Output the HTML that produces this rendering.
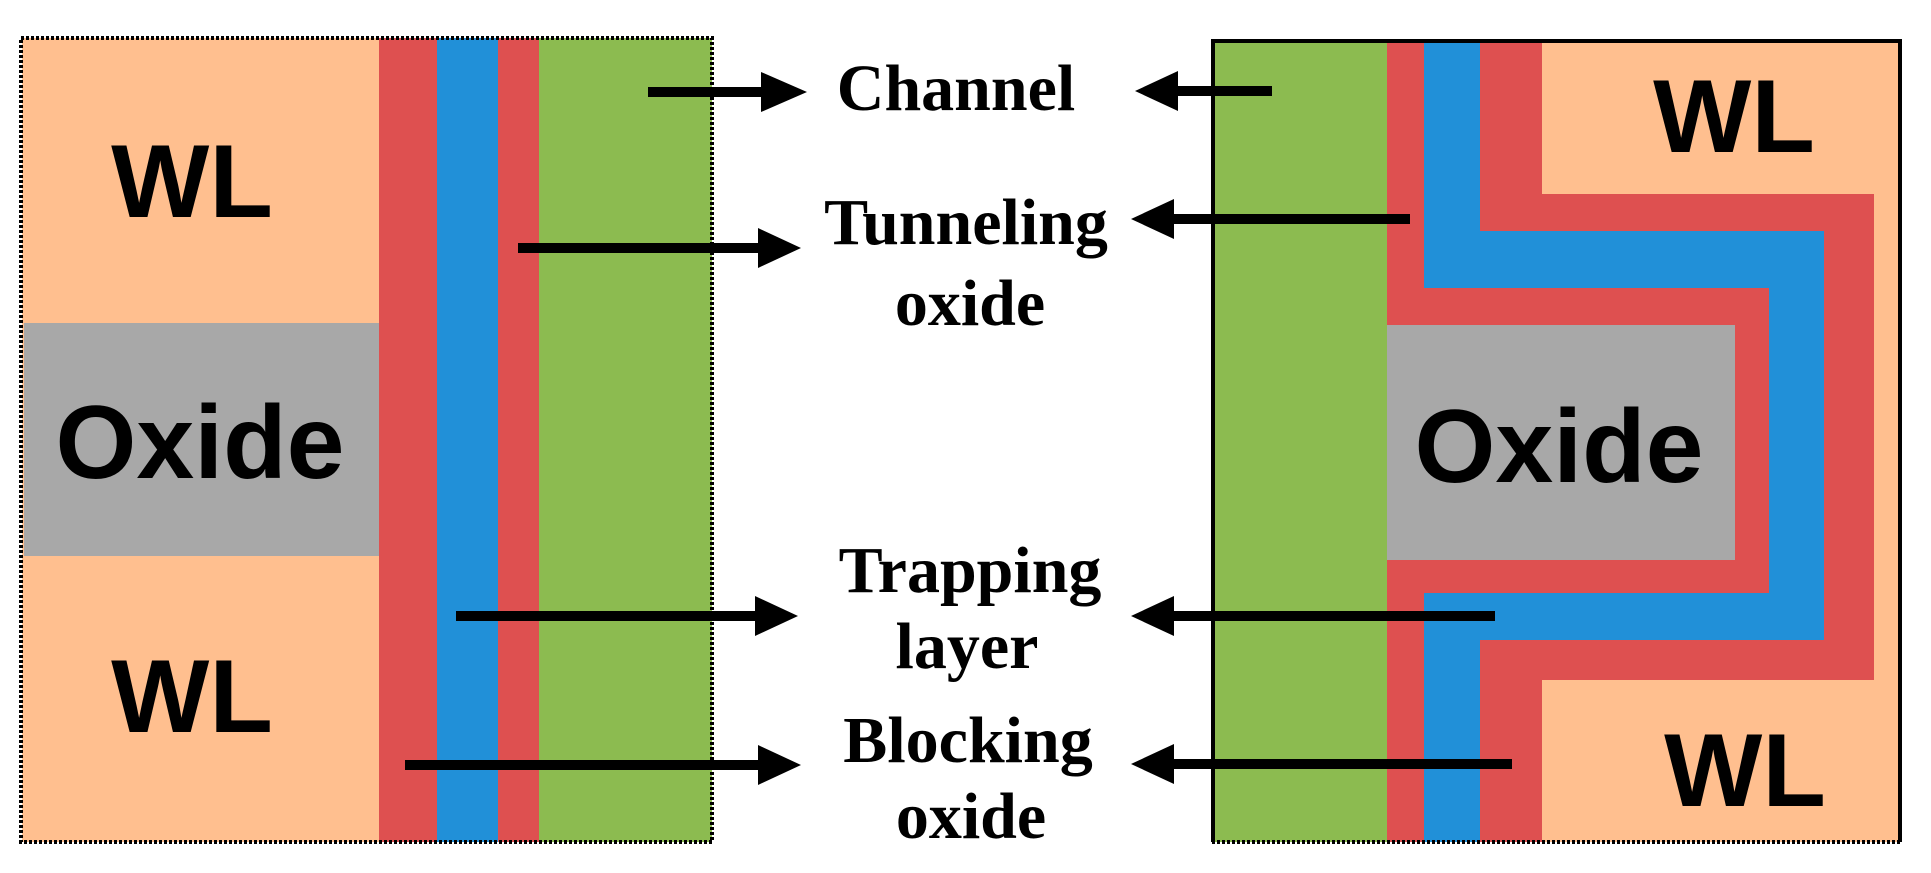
<!DOCTYPE html>
<html><head><meta charset="utf-8"><style>
html,body{margin:0;padding:0;background:#fff;}
svg{display:block;}
.s{font-family:"Liberation Sans",sans-serif;font-weight:bold;font-size:104px;fill:#000;}
.t{font-family:"Liberation Serif",serif;font-weight:bold;font-size:66px;fill:#000;}
</style></head><body>
<svg width="1931" height="873" viewBox="0 0 1931 873" xmlns="http://www.w3.org/2000/svg">
<!-- Left panel -->
<rect x="22" y="38" width="358" height="804" fill="#FFBF8F"/>
<rect x="24" y="323" width="356" height="233" fill="#A8A8A8"/>
<rect x="379" y="38" width="59" height="804" fill="#DE5050"/>
<rect x="437" y="38" width="62" height="804" fill="#2190D8"/>
<rect x="498" y="38" width="42" height="804" fill="#DE5050"/>
<rect x="539" y="38" width="173" height="804" fill="#8CBB50"/>
<rect x="21" y="38" width="691" height="804" fill="none" stroke="#000" stroke-width="4" stroke-dasharray="3 2"/>
<text class="s" x="192" y="217" text-anchor="middle">WL</text>
<text class="s" x="200" y="478" text-anchor="middle">Oxide</text>
<text class="s" x="192" y="732" text-anchor="middle">WL</text>
<!-- Right panel -->
<rect x="1387" y="39" width="514" height="803" fill="#FFBF8F"/>
<polygon points="1387,39 1542,39 1542,194 1874,194 1874,680 1542,680 1542,842 1387,842" fill="#DE5050"/>
<polygon points="1424,39 1480,39 1480,231 1824,231 1824,640 1480,640 1480,842 1424,842" fill="#2190D8"/>
<rect x="1387" y="288" width="382" height="305" fill="#DE5050"/>
<rect x="1387" y="325" width="348" height="235" fill="#A8A8A8"/>
<rect x="1212" y="39" width="175" height="803" fill="#8CBB50"/>
<path d="M1213,842 L1213,41 L1900,41 L1900,842" fill="none" stroke="#000" stroke-width="4"/>
<line x1="1212" y1="842" x2="1901" y2="842" stroke="#000" stroke-width="4" stroke-dasharray="3 2"/>
<text class="s" x="1734" y="152" text-anchor="middle">WL</text>
<text class="s" x="1559" y="482" text-anchor="middle">Oxide</text>
<text class="s" x="1745" y="806" text-anchor="middle">WL</text>
<!-- Labels -->
<text class="t" x="956" y="110" text-anchor="middle">Channel</text>
<text class="t" x="966" y="244" text-anchor="middle">Tunneling</text>
<text class="t" x="970" y="325" text-anchor="middle">oxide</text>
<text class="t" x="970" y="592" text-anchor="middle">Trapping</text>
<text class="t" x="967" y="668" text-anchor="middle">layer</text>
<text class="t" x="968" y="762" text-anchor="middle">Blocking</text>
<text class="t" x="971" y="838" text-anchor="middle">oxide</text>
<!-- Left arrows -->
<g fill="#000">
<rect x="648" y="87" width="120" height="10"/><polygon points="761,72 807,92 761,112"/>
<rect x="518" y="243" width="240" height="10"/><polygon points="758,228 801,248 758,268"/>
<rect x="456" y="611" width="300" height="10"/><polygon points="755,596 798,616 755,636"/>
<rect x="405" y="760" width="354" height="10"/><polygon points="758,745 801,765 758,785"/>
<!-- Right arrows -->
<rect x="1175" y="86" width="97" height="10"/><polygon points="1178,71 1135,91 1178,111"/>
<rect x="1172" y="214" width="238" height="10"/><polygon points="1174,199 1131,219 1174,239"/>
<rect x="1172" y="611" width="323" height="10"/><polygon points="1174,596 1131,616 1174,636"/>
<rect x="1172" y="759" width="340" height="10"/><polygon points="1174,744 1131,764 1174,784"/>
</g>
</svg>
</body></html>
